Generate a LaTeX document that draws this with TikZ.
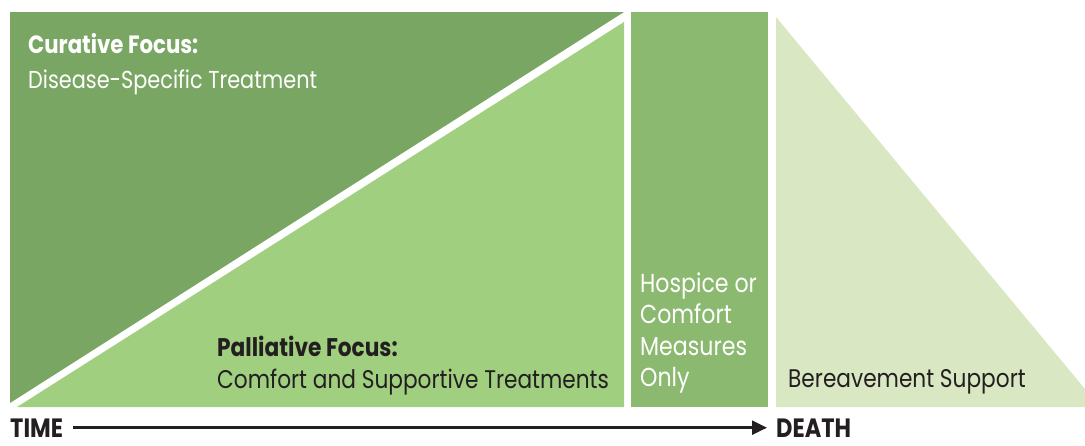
\documentclass[tikz,border=0pt]{standalone}
\usepackage{fontspec}
\setmainfont{Poppins}[FakeStretch=0.85]
\usetikzlibrary{arrows.meta}
\definecolor{curgreen}{HTML}{7AA663}
\definecolor{hospgreen}{HTML}{8BB970}
\definecolor{palgreen}{HTML}{A0CF80}
\definecolor{berpale}{HTML}{D9E8C2}
\definecolor{inkdark}{HTML}{231F20}
\tikzset{
  lbl/.style={anchor=base west,inner sep=0pt,font=\fontsize{25.5}{25.5}\selectfont},
  lblbold/.style={lbl,font=\fontsize{25.5}{25.5}\selectfont\bfseries},
}
\begin{document}
\begin{tikzpicture}[line cap=butt,line join=miter,x=1pt,y=-1pt]
		\useasboundingbox (0,0) rectangle (1085,445);
		% blocks
		\fill [curgreen] (10,12) -- (624,12) -- (10,403) -- cycle;
		\fill [palgreen] (624,22) -- (624,407) -- (17,407) -- cycle;
		\fill [hospgreen] (631,12) rectangle (768,407);
		\fill [berpale] (776,17) -- (1085,389) -- (1085,407) -- (776,407) -- cycle;
		% labels
		\node [lblbold,white,font=\fontsize{25}{25}\selectfont\bfseries] (curtitle) at (28,53) {Curative Focus:};
		\node [lbl,white,font=\fontsize{24.5}{24.5}\selectfont] (curtext) at (28,88) {Disease-Specific Treatment};
		\node [lblbold,inkdark] (paltitle) at (217,356) {Palliative Focus:};
		\node [lbl,inkdark] (paltext) at (217,388) {Comfort and Supportive Treatments};
		\foreach \t [count=\i] in {Hospice or,Comfort,Measures,Only}
			\node [lbl,white,font=\fontsize{26}{26}\selectfont] (hosp\i) at (640,292+31.6*\i-31.6) {\t};
		\node [lbl,inkdark] (bereave) at (788,387) {Bereavement Support};
		% time axis
		\node [lblbold,inkdark,font=\fontsize{26.5}{26.5}\selectfont\bfseries] (time) at (10,437) {TIME};
		\node [lblbold,inkdark,font=\fontsize{26.5}{26.5}\selectfont\bfseries] (death) at (776,437) {DEATH};
		\draw [inkdark,line width=2.5pt,-{Triangle[length=15pt,width=14pt]},shorten <=10pt,shorten >=9pt] (time.east) -- (death.west);
		\end{tikzpicture}
\end{document}
